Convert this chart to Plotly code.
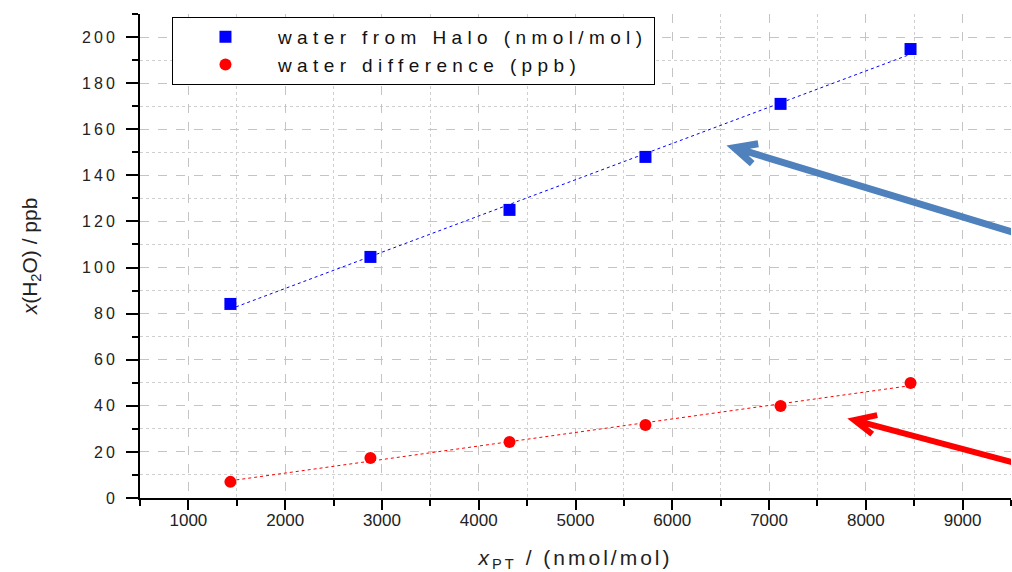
import numpy as np
import plotly.graph_objects as go

# ---- data ----
x_pt = [1434, 2881, 4318, 5723, 7119, 8462]
water_halo = [84.2, 104.6, 125.0, 148.0, 171.0, 194.8]
water_diff = [7.0, 17.4, 24.3, 31.7, 39.9, 49.9]

series_names = ["water from Halo (nmol/mol)", "water difference (ppb)"]
x_title = "<i>x</i><sub>PT</sub> / (nmol/mol)"
y_title = "<i>x</i>(H<sub>2</sub>O) / ppb"

FONT = "Liberation Sans, Arial, sans-serif"
BLUE = "#0000FF"
RED = "#FF0000"

fig = go.Figure()

xs = np.array(x_pt, dtype=float)
xfit = np.array([xs.min(), xs.max()])
for ys, col in [(water_halo, BLUE), (water_diff, RED)]:
    k, b = np.polyfit(xs, np.array(ys, dtype=float), 1)
    fig.add_trace(go.Scatter(x=xfit, y=k * xfit + b, mode="lines",
                             line=dict(color=col, width=1, dash="dot"),
                             showlegend=False, hoverinfo="skip"))

fig.add_trace(go.Scatter(x=x_pt, y=water_halo, mode="markers", name=series_names[0],
                         marker=dict(symbol="square", size=12, color=BLUE)))
fig.add_trace(go.Scatter(x=x_pt, y=water_diff, mode="markers", name=series_names[1],
                         marker=dict(symbol="circle", size=12, color=RED)))

# ---- annotation arrows (chevron heads), anchored at tip, pixel offsets ----
arrows = [
    dict(tip=(6640, 152.0), tail=(300, -91), arm1=(24, 4), arm2=(18, -16), color="#4F81BD", width=7),
    dict(tip=(7880, 33.8), tail=(300, -80), arm1=(23, 5), arm2=(18, -14), color="#FF0000", width=6),
]
for a in arrows:
    tx, ty = a["tail"]
    p1x, p1y = a["arm1"]
    p2x, p2y = a["arm2"]
    path = f"M {tx},{ty} L 0,0 M {p1x},{p1y} L 0,0 L {p2x},{p2y}"
    fig.add_shape(type="path", path=path, xref="x", yref="y",
                  xsizemode="pixel", ysizemode="pixel",
                  xanchor=a["tip"][0], yanchor=a["tip"][1],
                  line=dict(color=a["color"], width=a["width"]), layer="above")

grid_major = "#c4c4c4"
grid_minor = "#cfcfcf"

fig.update_xaxes(range=[500, 9500], tick0=1000, dtick=1000,
                 showline=True, linewidth=2, linecolor="black",
                 ticks="outside", ticklen=10, tickwidth=2, tickcolor="black",
                 ticklabelstandoff=-4,
                 showgrid=True, gridcolor=grid_major, griddash="dash", gridwidth=1,
                 zeroline=False,
                 minor=dict(dtick=500, tick0=500, ticks="outside", ticklen=6, tickwidth=2,
                            tickcolor="black", showgrid=True, gridcolor=grid_minor,
                            griddash="dot", gridwidth=1),
                 tickfont=dict(family=FONT, size=17, color="#222"),
                 title=dict(text=x_title, font=dict(family=FONT, size=21, color="#222"), standoff=21))
fig.update_yaxes(range=[0, 210], tick0=0, dtick=20,
                 showline=True, linewidth=2, linecolor="black",
                 ticks="outside", ticklen=12, tickwidth=2, tickcolor="black",
                 ticklabelstandoff=5,
                 showgrid=True, gridcolor=grid_major, griddash="dash", gridwidth=1,
                 zeroline=False,
                 minor=dict(dtick=10, ticks="outside", ticklen=6, tickwidth=2,
                            tickcolor="black", showgrid=True, gridcolor=grid_minor,
                            griddash="dot", gridwidth=1),
                 tickfont=dict(family=FONT, size=16, color="#222"),
                 title=dict(text=y_title, font=dict(family=FONT, size=21, color="#222"), standoff=48))

fig.update_layout(
    width=1012, height=572,
    margin=dict(l=140, r=1, t=14, b=74, autoexpand=False),
    plot_bgcolor="white", paper_bgcolor="white",
    showlegend=True,
    legend=dict(x=0.0367, y=0.994, xanchor="left", yanchor="top",
                bgcolor="white", bordercolor="black", borderwidth=1,
                font=dict(family=FONT, size=19, color="#111"),
                itemwidth=95, tracegroupgap=0),
)

post = """
var s = document.createElement('style');
s.textContent = 'html,body{margin:0;padding:0;overflow:hidden}' +
  ' .legendtext{letter-spacing:5.4px}' +
  ' .xtitle{letter-spacing:3px}' +
  ' .ytick text{letter-spacing:3px}';
document.head.appendChild(s);
var gd = document.getElementById('{plot_id}');
Plotly.relayout(gd, {'legend.font.size': 19.01});
"""

fig.write_html("out.html", post_script=post, config={"displayModeBar": False})
